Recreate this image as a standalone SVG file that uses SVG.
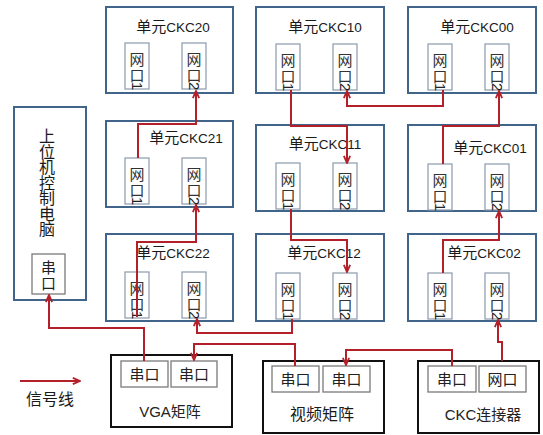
<svg xmlns="http://www.w3.org/2000/svg" width="543" height="435" viewBox="0 0 543 435">
<defs>
<style>
.unit{fill:#fff;stroke:#41658a;stroke-width:2}
.port{fill:#fff;stroke:#8a9aac;stroke-width:1.2}
.dev{fill:#fff;stroke:#111;stroke-width:2}
.sport{fill:#fff;stroke:#7a7a7a;stroke-width:1.3}
text{font-family:"Liberation Sans","Noto Sans CJK SC",sans-serif;fill:#1a1a1a}
.title{font-size:15px;text-anchor:middle}
.title tspan.l{font-size:13.5px}
.pt{font-size:15px;text-anchor:middle;fill:#333}
.pd{font-size:15px;fill:#222;dominant-baseline:central}
.big{font-size:16px;text-anchor:middle}
.sp{font-size:15px;text-anchor:middle;fill:#222}
.sig{fill:none;stroke:#b3202a;stroke-width:2}
</style>
<marker id="arr" viewBox="0 0 10 10" refX="9" refY="5" markerWidth="9" markerHeight="9" markerUnits="userSpaceOnUse" orient="auto">
<path d="M1,1.5 L9,5 L1,8.5" fill="none" stroke="#b3202a" stroke-width="2"/>
</marker>
</defs>
<rect width="543" height="435" fill="#fff"/>

<g id="pc">
<rect class="unit" x="14" y="107" width="72" height="193"/>
<text class="big" x="47" y="142">上</text>
<text class="big" x="47" y="157.5">位</text>
<text class="big" x="47" y="173">机</text>
<text class="big" x="47" y="188.5">控</text>
<text class="big" x="47" y="204">制</text>
<text class="big" x="47" y="219.5">电</text>
<text class="big" x="47" y="235">脑</text>
<rect class="sport" x="32" y="254" width="33" height="40"/>
<text class="sp" x="48.5" y="273">串</text>
<text class="sp" x="48.5" y="289">口</text>
</g>

<g id="ckc20">
<rect class="unit" x="106" y="7" width="127" height="86"/>
<text class="title" x="173" y="32">单元<tspan class="l">CKC20</tspan></text>
<rect class="port" x="125" y="43" width="24" height="46"/>
<text class="pt" x="137" y="65">网</text><text class="pt" x="137" y="81">口</text>
<text class="pd" transform="translate(137,82) rotate(90)">1</text>
<rect class="port" x="182" y="43" width="24" height="46"/>
<text class="pt" x="194" y="65">网</text><text class="pt" x="194" y="81">口</text>
<text class="pd" transform="translate(194,82) rotate(90)">2</text>
</g>

<g id="ckc10">
<rect class="unit" x="256" y="7" width="128" height="86"/>
<text class="title" x="325" y="32">单元<tspan class="l">CKC10</tspan></text>
<rect class="port" x="276" y="44" width="24" height="46"/>
<text class="pt" x="288" y="66">网</text><text class="pt" x="288" y="82">口</text>
<text class="pd" transform="translate(288,83) rotate(90)">1</text>
<rect class="port" x="333" y="44" width="24" height="46"/>
<text class="pt" x="345" y="66">网</text><text class="pt" x="345" y="82">口</text>
<text class="pd" transform="translate(345,83) rotate(90)">2</text>
</g>

<g id="ckc00">
<rect class="unit" x="408" y="7" width="128" height="86"/>
<text class="title" x="477" y="32">单元<tspan class="l">CKC00</tspan></text>
<rect class="port" x="428" y="44" width="24" height="46"/>
<text class="pt" x="440" y="66">网</text><text class="pt" x="440" y="82">口</text>
<text class="pd" transform="translate(440,83) rotate(90)">1</text>
<rect class="port" x="485" y="44" width="24" height="46"/>
<text class="pt" x="497" y="66">网</text><text class="pt" x="497" y="82">口</text>
<text class="pd" transform="translate(497,83) rotate(90)">2</text>
</g>

<g id="ckc21">
<rect class="unit" x="106" y="121" width="127" height="86"/>
<text class="title" x="186" y="143">单元<tspan class="l">CKC21</tspan></text>
<rect class="port" x="125" y="158" width="24" height="46"/>
<text class="pt" x="137" y="180">网</text><text class="pt" x="137" y="196">口</text>
<text class="pd" transform="translate(137,197) rotate(90)">1</text>
<rect class="port" x="182" y="158" width="24" height="46"/>
<text class="pt" x="194" y="180">网</text><text class="pt" x="194" y="196">口</text>
<text class="pd" transform="translate(194,197) rotate(90)">2</text>
</g>

<g id="ckc11">
<rect class="unit" x="256" y="125" width="128" height="86"/>
<text class="title" x="325" y="149">单元<tspan class="l">CKC11</tspan></text>
<rect class="port" x="276" y="163" width="24" height="46"/>
<text class="pt" x="288" y="185">网</text><text class="pt" x="288" y="201">口</text>
<text class="pd" transform="translate(288,202) rotate(90)">1</text>
<rect class="port" x="333" y="163" width="24" height="46"/>
<text class="pt" x="345" y="185">网</text><text class="pt" x="345" y="201">口</text>
<text class="pd" transform="translate(345,202) rotate(90)">2</text>
</g>

<g id="ckc01">
<rect class="unit" x="408" y="125" width="128" height="86"/>
<text class="title" x="490" y="153">单元<tspan class="l">CKC01</tspan></text>
<rect class="port" x="428" y="164" width="24" height="46"/>
<text class="pt" x="440" y="186">网</text><text class="pt" x="440" y="202">口</text>
<text class="pd" transform="translate(440,203) rotate(90)">1</text>
<rect class="port" x="485" y="164" width="24" height="46"/>
<text class="pt" x="497" y="186">网</text><text class="pt" x="497" y="202">口</text>
<text class="pd" transform="translate(497,203) rotate(90)">2</text>
</g>

<g id="ckc22">
<rect class="unit" x="106" y="234" width="127" height="87"/>
<text class="title" x="173" y="258">单元<tspan class="l">CKC22</tspan></text>
<rect class="port" x="125" y="272" width="24" height="46"/>
<text class="pt" x="137" y="294">网</text><text class="pt" x="137" y="310">口</text>
<text class="pd" transform="translate(137,311) rotate(90)">1</text>
<rect class="port" x="182" y="272" width="24" height="46"/>
<text class="pt" x="194" y="294">网</text><text class="pt" x="194" y="310">口</text>
<text class="pd" transform="translate(194,311) rotate(90)">2</text>
</g>

<g id="ckc12">
<rect class="unit" x="256" y="234" width="128" height="87"/>
<text class="title" x="324" y="258">单元<tspan class="l">CKC12</tspan></text>
<rect class="port" x="276" y="273" width="24" height="46"/>
<text class="pt" x="288" y="295">网</text><text class="pt" x="288" y="311">口</text>
<text class="pd" transform="translate(288,312) rotate(90)">1</text>
<rect class="port" x="333" y="273" width="24" height="46"/>
<text class="pt" x="345" y="295">网</text><text class="pt" x="345" y="311">口</text>
<text class="pd" transform="translate(345,312) rotate(90)">2</text>
</g>

<g id="ckc02">
<rect class="unit" x="408" y="234" width="128" height="87"/>
<text class="title" x="484" y="258">单元<tspan class="l">CKC02</tspan></text>
<rect class="port" x="428" y="273" width="24" height="46"/>
<text class="pt" x="440" y="295">网</text><text class="pt" x="440" y="311">口</text>
<text class="pd" transform="translate(440,312) rotate(90)">1</text>
<rect class="port" x="485" y="273" width="24" height="46"/>
<text class="pt" x="497" y="295">网</text><text class="pt" x="497" y="311">口</text>
<text class="pd" transform="translate(497,312) rotate(90)">2</text>
</g>

<g id="vga">
<rect class="dev" x="111" y="355" width="121" height="72"/>
<rect class="sport" x="121" y="361" width="47" height="26"/>
<text class="sp" x="144.5" y="380">串口</text>
<rect class="sport" x="171" y="361" width="46" height="26"/>
<text class="sp" x="194" y="380">串口</text>
<text class="sp" x="170" y="417">VGA矩阵</text>
</g>

<g id="video">
<rect class="dev" x="263" y="361" width="121" height="72"/>
<rect class="sport" x="272" y="366" width="47" height="26"/>
<text class="sp" x="295.5" y="385">串口</text>
<rect class="sport" x="323" y="366" width="47" height="26"/>
<text class="sp" x="346.5" y="385">串口</text>
<text class="big" x="322" y="420">视频矩阵</text>
</g>

<g id="connector">
<rect class="dev" x="418" y="361" width="121" height="72"/>
<rect class="sport" x="428" y="366" width="48" height="26"/>
<text class="sp" x="452" y="385">串口</text>
<rect class="sport" x="479" y="366" width="47" height="26"/>
<text class="sp" x="502.5" y="385">网口</text>
<text class="sp" x="483" y="420">CKC连接器</text>
</g>

<g id="legend">
<path class="sig" d="M20,381 H80" marker-end="url(#arr)"/>
<text class="big" x="50" y="405">信号线</text>
</g>

<g id="connectors">
<path class="sig" d="M138,158 V124 H196 V91" marker-end="url(#arr)"/>
<path class="sig" d="M137,317 V242 H196 V205" marker-end="url(#arr)"/>
<path class="sig" d="M292,319 V333 H197 V319" marker-end="url(#arr)"/>
<path class="sig" d="M295,366 V344 H194 V360" marker-end="url(#arr)"/>
<path class="sig" d="M452,366 V350 H346 V365" marker-end="url(#arr)"/>
<path class="sig" d="M502,361 V342 H498 V320" marker-end="url(#arr)"/>
<path class="sig" d="M443,273 V240 H499 V211" marker-end="url(#arr)"/>
<path class="sig" d="M443,164 V126 H499 V91" marker-end="url(#arr)"/>
<path class="sig" d="M443,90 V106 H347 V91" marker-end="url(#arr)"/>
<path class="sig" d="M291,90 V126 H347 V163" marker-end="url(#arr)"/>
<path class="sig" d="M291,209 V240 H347 V272" marker-end="url(#arr)"/>
<path class="sig" d="M144,361 V328 H49 V295" marker-end="url(#arr)"/>
</g>
</svg>
